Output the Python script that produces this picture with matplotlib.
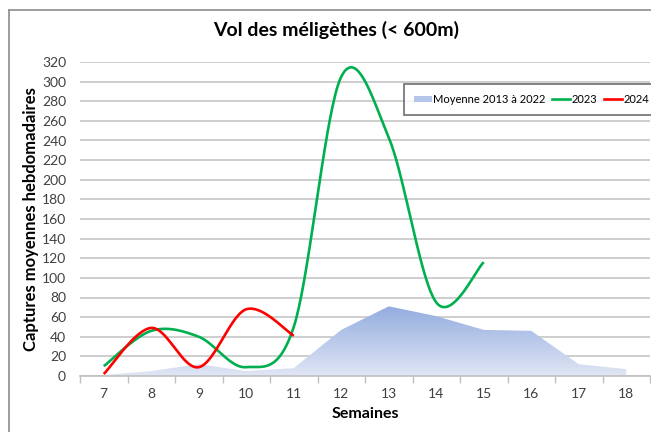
import numpy as np
import matplotlib.pyplot as plt
from matplotlib.lines import Line2D
from matplotlib.patches import Polygon, Patch
from matplotlib.colors import LinearSegmentedColormap

plt.rcParams['font.family'] = ['Lato', 'DejaVu Sans']

# Data
semaines = [7, 8, 9, 10, 11, 12, 13, 14, 15, 16, 17, 18]
moyenne = [1, 5, 12, 5, 8, 47, 71, 61, 47, 46, 12, 7]
semaines_2023 = [7, 8, 9, 10, 11, 12, 13, 14, 15]
val_2023 = [10, 46, 40, 9, 50, 305, 243, 75, 116]
semaines_2024 = [7, 8, 9, 10, 11]
val_2024 = [2, 49, 9, 68, 41]
yticks = list(range(0, 321, 20))


def smooth(xs, ys, n=40):
    # Excel-like smoothed line: Catmull-Rom segments as cubic Bezier
    xs = np.asarray(xs, float)
    ys = np.asarray(ys, float)
    px = np.concatenate([[xs[0]], xs, [xs[-1]]])
    py = np.concatenate([[ys[0]], ys, [ys[-1]]])
    outx, outy = [], []
    t = np.linspace(0, 1, n)
    for i in range(1, len(px) - 2):
        p0 = np.array([px[i], py[i]])
        p3 = np.array([px[i + 1], py[i + 1]])
        p1 = p0 + (p3 - np.array([px[i - 1], py[i - 1]])) / 6
        p2 = p3 - (np.array([px[i + 2], py[i + 2]]) - p0) / 6
        b = ((1 - t) ** 3)[:, None] * p0 + (3 * (1 - t) ** 2 * t)[:, None] * p1 \
            + (3 * (1 - t) * t ** 2)[:, None] * p2 + (t ** 3)[:, None] * p3
        outx.extend(b[:, 0])
        outy.extend(b[:, 1])
    return outx, outy


fig = plt.figure(figsize=(6.51, 4.32), dpi=100)
ax = fig.add_axes([80 / 651, 56 / 432, 570 / 651, 314 / 432])

# figure frame
fig.add_artist(Line2D([9 / 651, 9 / 651], [0, 422 / 432], color='#8c8c8c', lw=1.2))
fig.add_artist(Line2D([9 / 651, 1], [422 / 432, 422 / 432], color='#8c8c8c', lw=1.2))

# gradient area for the 2013-2022 mean
cmap = LinearSegmentedColormap.from_list('bl', ['#e0e6f4', '#93ade0'])
poly = Polygon(list(zip(semaines, moyenne)) + [(semaines[-1], 0), (semaines[0], 0)],
               closed=True, facecolor='none', edgecolor='none')
ax.add_patch(poly)
grad = np.linspace(0, 1, 256)[:, None]
im = ax.imshow(grad, extent=[semaines[0], semaines[-1], 0, max(moyenne)],
               origin='lower', cmap=cmap, aspect='auto', zorder=2)
im.set_clip_path(poly)

gx, gy = smooth(semaines_2023, val_2023)
ax.plot(gx, gy, color='#00b050', lw=1.9, zorder=3, solid_capstyle='butt')
rx, ry = smooth(semaines_2024, val_2024)
ax.plot(rx, ry, color='#ff0000', lw=1.9, zorder=4, solid_capstyle='butt')

ax.set_xlim(6.5, 18.5)
ax.set_ylim(0, 320)
ax.set_yticks(yticks)
ax.set_xticks(semaines)
ax.set_xticks(np.arange(6.5, 18.6, 1), minor=True)
ax.tick_params(axis='x', which='major', length=0, pad=9, labelsize=10, labelcolor='#404040')
ax.tick_params(axis='x', which='minor', length=5, color='#bfbfbf', width=1)
ax.tick_params(axis='y', length=0, pad=10, labelsize=10, labelcolor='#404040')
ax.grid(axis='y', color='#c6c6c6', lw=1.2, zorder=0)
ax.set_axisbelow(True)
for s in ['left', 'right', 'top']:
    ax.spines[s].set_visible(False)
ax.spines['bottom'].set_color('#bfbfbf')
ax.spines['bottom'].set_linewidth(1.2)

ax.set_xlabel('Semaines', fontsize=11.5, fontweight='bold', labelpad=5)
ax.set_ylabel('Captures moyennes hebdomadaires', fontsize=12, fontweight='bold', labelpad=2)
fig.text(336 / 651, 1 - 30 / 432, 'Vol des méligèthes (< 600m)', ha='center', va='center',
         fontsize=14, fontweight='bold')

handles = [Patch(facecolor='#b4c6ea', edgecolor='none'),
           Line2D([], [], color='#00b050', lw=1.9),
           Line2D([], [], color='#ff0000', lw=1.9)]
leg = fig.legend(handles, ['Moyenne 2013 à 2022', '2023', '2024'], ncol=3,
                 loc='upper left', bbox_to_anchor=(404 / 651, 1 - 84 / 432),
                 borderaxespad=0, fontsize=8, frameon=True, fancybox=False,
                 handlelength=1.6, handleheight=0.5, handletextpad=0.15,
                 columnspacing=0.6, borderpad=0.9)
leg.get_frame().set_edgecolor('#595959')
leg.get_frame().set_linewidth(1.3)

plt.savefig('out.png', dpi=100)
